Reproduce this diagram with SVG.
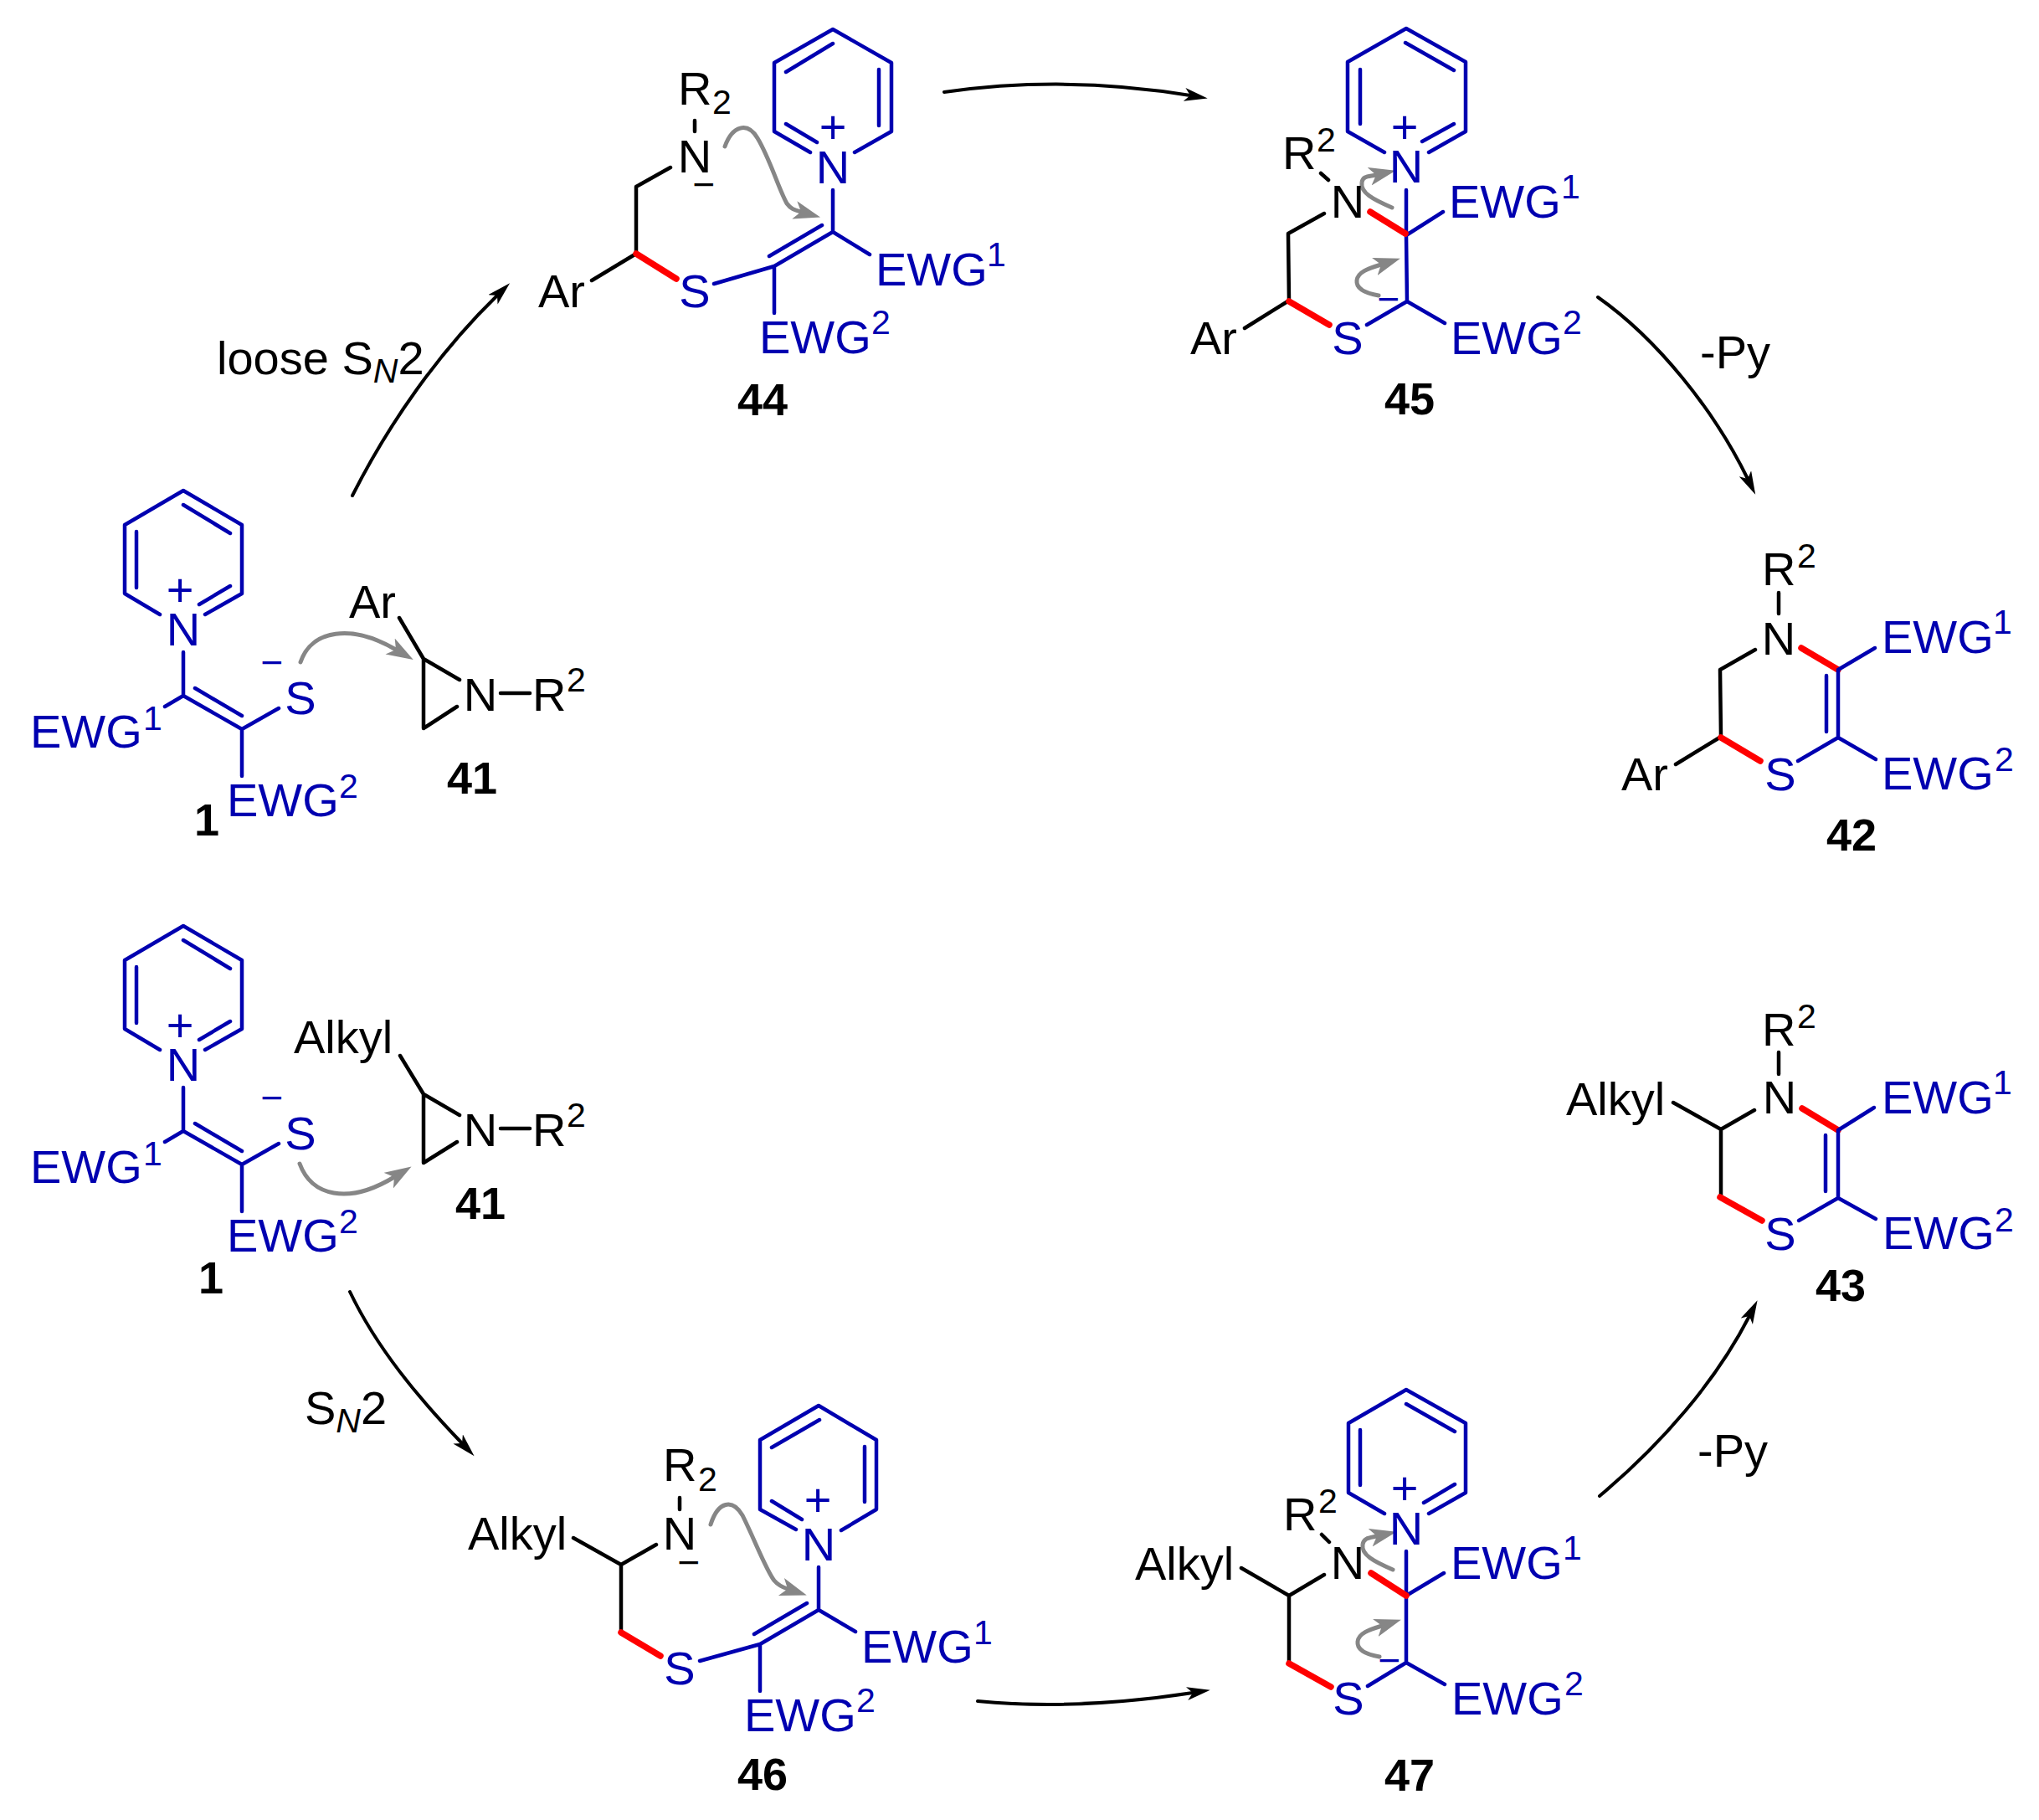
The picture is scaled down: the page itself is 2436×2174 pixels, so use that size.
<svg xmlns="http://www.w3.org/2000/svg" width="2436" height="2174" viewBox="0 0 2436 2174">
<style>
text{font-family:"Liberation Sans",Arial,sans-serif;font-size:56px;fill:#000}
.e{fill:#0000b0}
.s{font-size:41px}
.c{text-anchor:middle}
.l{font-weight:bold;font-size:54px}
.m{font-size:46px;text-anchor:middle}
path{fill:none;stroke-linecap:round;stroke-linejoin:round}
.k{stroke:#000;stroke-width:4.5}
.b{stroke:#0000b0;stroke-width:4.5}
.r{stroke:#f00;stroke-width:7.5}
.g{stroke:#868686;stroke-width:5}
.a{stroke:#000;stroke-width:4}
</style>
<defs>
<marker id="ah" markerUnits="userSpaceOnUse" markerWidth="30" markerHeight="18" refX="7" refY="8" orient="auto"><polygon points="28,8 0,0 7,8 0,16" fill="#000"/></marker>
<marker id="gh" markerUnits="userSpaceOnUse" markerWidth="34" markerHeight="24" refX="8" refY="11" orient="auto"><polygon points="32,11 0,0 8,11 0,22" fill="#868686"/></marker>
</defs>
<g id="connectors">
<path class="a" marker-end="url(#ah)" d="M421 592C465 505 525 420 594 353"/>
<path class="a" marker-end="url(#ah)" d="M1128 110C1220 97 1320 97 1422 114"/>
<path class="a" marker-end="url(#ah)" d="M1909 355C1980 405 2048 490 2088 572"/>
<path class="a" marker-end="url(#ah)" d="M418 1543C450 1610 500 1670 552 1724"/>
<path class="a" marker-end="url(#ah)" d="M1168 2032C1250 2040 1340 2035 1425 2022"/>
<path class="a" marker-end="url(#ah)" d="M1911 1787C1985 1725 2050 1650 2090 1572"/>
<path class="g" marker-end="url(#gh)" d="M359 791C372 752 420 745 473 776"/>
<path class="g" marker-end="url(#gh)" d="M358 1390C372 1428 415 1440 471 1406"/>
<path class="g" marker-end="url(#gh)" d="M866 175C875 150 893 145 905 165C920 190 930 225 940 243C945 250 950 251 957 253"/>
<path class="g" marker-end="url(#gh)" d="M1663 248C1640 238 1625 230 1627 218C1628 210 1635 211 1644 209"/>
<path class="g" marker-end="url(#gh)" d="M1647 353C1630 350 1620 345 1621 335C1622 325 1634 321 1650 316"/>
<path class="g" marker-end="url(#gh)" d="M849 1821C858 1793 875 1790 887 1810C902 1840 915 1875 925 1888C930 1894 935 1896 941 1898"/>
<path class="g" marker-end="url(#gh)" d="M1664 1875C1641 1865 1626 1857 1628 1845C1629 1837 1636 1837 1645 1835"/>
<path class="g" marker-end="url(#gh)" d="M1648 1979C1631 1976 1621 1971 1622 1961C1623 1951 1635 1947 1651 1942"/>
</g>
<g id="labels">
<text x="259" y="447">loose S<tspan font-style="italic" font-size="41" dy="10">N</tspan><tspan dy="-10">2</tspan></text>
<text x="2031" y="440">-Py</text>
<text x="364" y="1701">S<tspan font-style="italic" font-size="41" dy="10">N</tspan><tspan dy="-10">2</tspan></text>
<text x="2028" y="1752">-Py</text>
</g>
<g id="cmpd-1-top">
<path class="b" d="M191 734L149 709V627L219 586L289 627V709L245 734M219 603L275 637M163 635V702M238 722L275 700M219 779V831L289 871L333 846M233 822L289 855M219 831L197 844M289 871V927"/>
<text class="e c" x="215" y="724">+</text>
<text class="e c" x="219" y="771">N</text>
<text class="e c" x="359" y="853">S</text>
<text class="e m" x="325" y="807">−</text>
<text class="e" x="36" y="893">EWG</text><text class="e s" x="171" y="872">1</text>
<text class="e" x="271" y="975">EWG</text><text class="e s" x="405" y="953">2</text>
<text class="l c" x="247" y="998">1</text>
</g>
<g id="cmpd-41-top">
<path class="k" d="M477 738L506 787L549 812M506 787V870L546 844M598 828H633"/>
<text x="417" y="738">Ar</text>
<text class="c" x="574" y="849">N</text>
<text x="636" y="849">R</text><text class="s" x="677" y="826">2</text>
<text class="l" x="534" y="948">41</text>
</g>
<g id="cmpd-1-bottom">
<path class="b" d="M191 1254L149 1229V1147L219 1106L289 1147V1229L245 1254M219 1123L275 1157M163 1155V1222M238 1242L275 1220M219 1299V1351L289 1391L333 1366M233 1342L289 1375M219 1351L197 1364M289 1391V1447"/>
<text class="e c" x="215" y="1244">+</text>
<text class="e c" x="219" y="1291">N</text>
<text class="e c" x="359" y="1373">S</text>
<text class="e m" x="325" y="1327">−</text>
<text class="e" x="36" y="1413">EWG</text><text class="e s" x="171" y="1392">1</text>
<text class="e" x="271" y="1495">EWG</text><text class="e s" x="405" y="1473">2</text>
<text class="l c" x="252" y="1545">1</text>
</g>
<g id="cmpd-41-bottom">
<path class="k" d="M478 1261L506 1307L549 1332M506 1307V1389L546 1364M598 1348H633"/>
<text x="351" y="1258">Alkyl</text>
<text class="c" x="574" y="1369">N</text>
<text x="636" y="1369">R</text><text class="s" x="677" y="1346">2</text>
<text class="l" x="544" y="1456">41</text>
</g>
<g id="cmpd-44">
<path class="b" d="M968 182L925 157V75L995 35L1065 75V157L1021 182M995 52L939 86M1050 83V150M939 148L976 170M995 227V277L925 318L853 339M982 269L919 306M995 277L1039 304M925 318V374"/>
<path class="k" d="M707 335L760 303V223L801 200M830 144V157"/>
<path class="r" d="M760 303L808 333"/>
<text class="e c" x="995" y="171">+</text>
<text class="e c" x="995" y="219">N</text>
<text class="e c" x="830" y="367">S</text>
<text class="e" x="1046" y="341">EWG</text><text class="e s" x="1179" y="318">1</text>
<text class="e" x="907" y="422">EWG</text><text class="e s" x="1041" y="399">2</text>
<text x="643" y="367">Ar</text>
<text class="c" x="830" y="206">N</text>
<text x="810" y="125">R</text><text class="s" x="851" y="136">2</text>
<text class="m" x="841" y="236">−</text>
<text class="l" x="881" y="496">44</text>
</g>
<g id="cmpd-45">
<path class="b" d="M1654 182L1610 157V74L1680 34L1751 74V157L1707 182M1679 51L1737 84M1625 83V148M1699 169L1737 148M1680 227V281L1681 360M1680 281L1724 253M1633 388L1681 360L1726 386"/>
<path class="k" d="M1578 207L1587 215M1582 255L1539 279L1540 359L1487 392"/>
<path class="r" d="M1637 253L1679 279M1540 360L1588 388"/>
<text class="e c" x="1678" y="171">+</text>
<text class="e c" x="1680" y="218">N</text>
<text class="e c" x="1610" y="423">S</text>
<text class="e m" x="1659" y="373">−</text>
<text class="e" x="1731" y="260">EWG</text><text class="e s" x="1865" y="237">1</text>
<text class="e" x="1733" y="423">EWG</text><text class="e s" x="1867" y="399">2</text>
<text class="c" x="1610" y="260">N</text>
<text x="1532" y="202">R</text><text class="s" x="1573" y="181">2</text>
<text x="1422" y="423">Ar</text>
<text class="l" x="1654" y="495">45</text>
</g>
<g id="cmpd-42">
<path class="k" d="M2125 708V733M2097 776L2055 800L2056 880L2002 913"/>
<path class="r" d="M2152 774L2196 800M2056 881L2103 909"/>
<path class="b" d="M2240 774L2196 800V881L2148 909M2196 881L2241 907M2182 807V874"/>
<text x="2105" y="699">R</text><text class="s" x="2147" y="678">2</text>
<text class="c" x="2125" y="782">N</text>
<text x="1937" y="944">Ar</text>
<text class="e c" x="2127" y="944">S</text>
<text class="e" x="2248" y="780">EWG</text><text class="e s" x="2381" y="757">1</text>
<text class="e" x="2248" y="943">EWG</text><text class="e s" x="2383" y="921">2</text>
<text class="l" x="2182" y="1016">42</text>
</g>
<g id="cmpd-43">
<path class="k" d="M2125 1257V1283M1999 1317L2056 1349L2096 1326M2056 1349V1429"/>
<path class="r" d="M2055 1430L2105 1458M2153 1324L2196 1350"/>
<path class="b" d="M2239 1323L2196 1350V1431L2149 1458M2196 1431L2241 1456M2181 1356V1423"/>
<text x="2105" y="1249">R</text><text class="s" x="2147" y="1228">2</text>
<text class="c" x="2126" y="1330">N</text>
<text x="1871" y="1332">Alkyl</text>
<text class="e c" x="2127" y="1493">S</text>
<text class="e" x="2248" y="1330">EWG</text><text class="e s" x="2381" y="1307">1</text>
<text class="e" x="2249" y="1492">EWG</text><text class="e s" x="2383" y="1471">2</text>
<text class="l" x="2169" y="1554">43</text>
</g>
<g id="cmpd-46">
<path class="b" d="M951 1827L908 1803V1720L978 1679L1047 1720V1803L1005 1828M979 1696L922 1729M1033 1728V1794M922 1793L958 1815M978 1872V1923L908 1964L836 1984M964 1915L901 1952M978 1923L1022 1949M908 1964V2020"/>
<path class="k" d="M685 1837L742 1869V1950M742 1869L784 1845M812 1789V1803"/>
<path class="r" d="M742 1950L789 1978"/>
<text class="e c" x="977" y="1811">+</text>
<text class="e c" x="978" y="1864">N</text>
<text class="e c" x="812" y="2012">S</text>
<text class="e" x="1029" y="1986">EWG</text><text class="e s" x="1163" y="1964">1</text>
<text class="e" x="889" y="2068">EWG</text><text class="e s" x="1023" y="2045">2</text>
<text x="559" y="1851">Alkyl</text>
<text class="c" x="812" y="1851">N</text>
<text x="792" y="1769">R</text><text class="s" x="834" y="1781">2</text>
<text class="m" x="823" y="1882">−</text>
<text class="l" x="881" y="2138">46</text>
</g>
<g id="cmpd-47">
<path class="b" d="M1654 1808L1611 1783V1700L1680 1660L1751 1700V1783L1707 1808M1680 1677L1738 1710M1625 1708V1774M1701 1795L1738 1773M1680 1853V1986M1680 1906L1725 1879M1634 2014L1680 1986L1726 2012"/>
<path class="k" d="M1579 1833L1588 1842M1483 1873L1540 1906L1582 1881M1540 1906V1986"/>
<path class="r" d="M1638 1879L1680 1906M1540 1987L1590 2015"/>
<text class="e c" x="1678" y="1797">+</text>
<text class="e c" x="1680" y="1845">N</text>
<text class="e c" x="1611" y="2048">S</text>
<text class="e m" x="1660" y="1999">−</text>
<text class="e" x="1733" y="1886">EWG</text><text class="e s" x="1867" y="1863">1</text>
<text class="e" x="1734" y="2048">EWG</text><text class="e s" x="1869" y="2025">2</text>
<text class="c" x="1610" y="1886">N</text>
<text x="1533" y="1828">R</text><text class="s" x="1575" y="1807">2</text>
<text x="1356" y="1887">Alkyl</text>
<text class="l" x="1654" y="2139">47</text>
</g>
</svg>
